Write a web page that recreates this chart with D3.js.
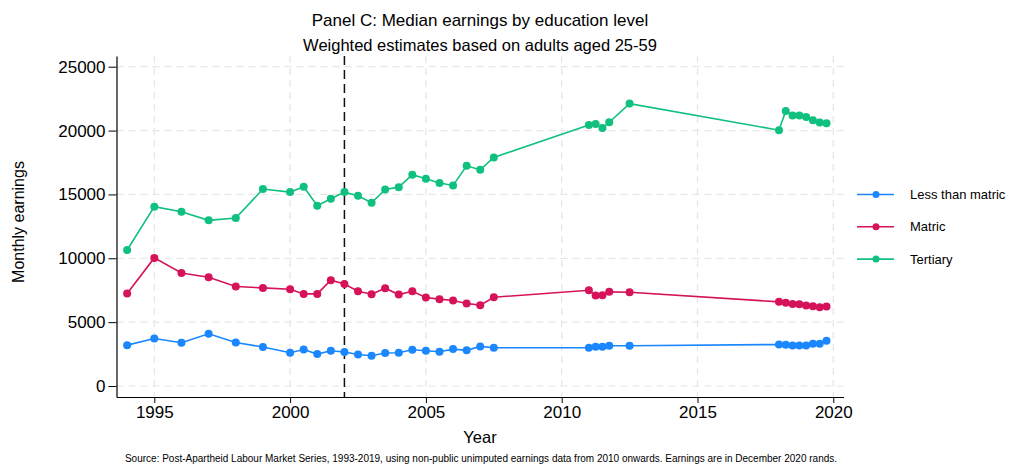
<!DOCTYPE html>
<html>
<head>
<meta charset="utf-8">
<script src="https://cdn.jsdelivr.net/npm/d3@7"></script>
<style>
  html, body { margin: 0; padding: 0; background: #fff; }
  svg { display: block; font-family: "Liberation Sans", Arial, sans-serif; }
</style>
</head>
<body>
<svg id="chart" width="1011" height="468"></svg>
<script>
// Survey rounds (fractional years for half-yearly and quarterly waves)
const years = [1994, 1995, 1996, 1997, 1998, 1999, 2000, 2000.5, 2001, 2001.5,
  2002, 2002.5, 2003, 2003.5, 2004, 2004.5, 2005, 2005.5, 2006, 2006.5,
  2007, 2007.5, 2011, 2011.25, 2011.5, 2011.75, 2012.5,
  2018, 2018.25, 2018.5, 2018.75, 2019, 2019.25, 2019.5, 2019.75];

// Median monthly earnings (December 2020 rands)
const lessThanMatric = [3200, 3720, 3390, 4090, 3410, 3050, 2600, 2860, 2500, 2760,
  2660, 2470, 2370, 2580, 2600, 2840, 2760, 2680, 2890, 2790,
  3100, 3000, 3000, 3070, 3070, 3150, 3150,
  3250, 3230, 3180, 3180, 3180, 3300, 3310, 3540];

const matric = [7240, 10030, 8850, 8520, 7790, 7680, 7580, 7210, 7210, 8280,
  7990, 7420, 7190, 7660, 7160, 7420, 6930, 6800, 6690, 6460,
  6330, 6950, 7500, 7080, 7110, 7370, 7340,
  6590, 6510, 6430, 6410, 6300, 6250, 6170, 6220];

const tertiary = [10650, 14040, 13650, 12970, 13150, 15420, 15180, 15600, 14120, 14660,
  15180, 14900, 14350, 15390, 15570, 16540, 16220, 15890, 15700, 17240,
  16930, 17890, 20440, 20520, 20210, 20650, 22110,
  20030, 21540, 21170, 21170, 21070, 20810, 20630, 20570];

const seriesNames = ["Less than matric", "Matric", "Tertiary"];
const seriesValues = [lessThanMatric, matric, tertiary];
const seriesColors = ["#1a87ff", "#d6125a", "#0fc07e"];

const xTicks = [1995, 2000, 2005, 2010, 2015, 2020];
const yTicks = [0, 5000, 10000, 15000, 20000, 25000];
const markerYear = 2002;

const svg = d3.select("#chart");
const plot = { left: 116.5, right: 843.5, top: 56, bottom: 397 };

const x = d3.scaleLinear().domain([1993.608, 2020.376]).range([plot.left, plot.right]);
const y = d3.scaleLinear().domain([-861, 25838]).range([plot.bottom, plot.top]);

// Grid lines
const grid = svg.append("g").attr("stroke", "#e6e6e6").attr("stroke-width", 1.2)
  .attr("stroke-dasharray", "7,5");
grid.selectAll("line.v").data(xTicks).join("line")
  .attr("x1", d => x(d)).attr("x2", d => x(d))
  .attr("y1", plot.top).attr("y2", plot.bottom);
grid.selectAll("line.h").data(yTicks).join("line")
  .attr("y1", d => y(d)).attr("y2", d => y(d))
  .attr("x1", plot.left).attr("x2", plot.right);

// Reference line at 2002
svg.append("line")
  .attr("x1", x(markerYear)).attr("x2", x(markerYear))
  .attr("y1", plot.top).attr("y2", plot.bottom)
  .attr("stroke", "#111").attr("stroke-width", 1.5)
  .attr("stroke-dasharray", "9,5");

// Axes
const xAxis = d3.axisBottom(x).tickValues(xTicks).tickSizeInner(6).tickSizeOuter(0)
  .tickPadding(3).tickFormat(d3.format("d"));
const gx = svg.append("g").attr("transform", `translate(0,${plot.bottom})`).call(xAxis);
gx.select(".domain").attr("stroke", "#000").attr("stroke-width", 1.2);
gx.selectAll(".tick line").attr("stroke", "#000");
gx.selectAll("text").attr("font-size", 17).attr("fill", "#000")
  .attr("font-family", "Liberation Sans, Arial, sans-serif");

const yAxis = d3.axisLeft(y).tickValues(yTicks).tickSizeInner(8).tickSizeOuter(0)
  .tickPadding(3).tickFormat(d3.format("d"));
const gy = svg.append("g").attr("transform", `translate(${plot.left},0)`).call(yAxis);
gy.select(".domain").attr("stroke", "#000").attr("stroke-width", 1.2);
gy.selectAll(".tick line").attr("stroke", "#000");
gy.selectAll("text").attr("font-size", 17).attr("fill", "#000")
  .attr("font-family", "Liberation Sans, Arial, sans-serif");

// Series lines and markers
const line = d3.line().x(d => x(d[0])).y(d => y(d[1]));
seriesValues.forEach((vals, i) => {
  const pts = years.map((yr, j) => [yr, vals[j]]);
  svg.append("path").datum(pts)
    .attr("fill", "none").attr("stroke", seriesColors[i]).attr("stroke-width", 1.6)
    .attr("d", line);
  svg.append("g").selectAll("circle").data(pts).join("circle")
    .attr("cx", d => x(d[0])).attr("cy", d => y(d[1])).attr("r", 4)
    .attr("fill", seriesColors[i]);
});

// Legend
const legend = svg.append("g");
seriesNames.forEach((name, i) => {
  const ly = 194.5 + i * 32.3;
  legend.append("line").attr("x1", 857).attr("x2", 894).attr("y1", ly).attr("y2", ly)
    .attr("stroke", seriesColors[i]).attr("stroke-width", 1.6);
  legend.append("circle").attr("cx", 876).attr("cy", ly).attr("r", 3.5).attr("fill", seriesColors[i]);
  legend.append("text").attr("x", 910).attr("y", ly).attr("dy", "0.35em")
    .attr("font-size", 13).attr("fill", "#000").text(name);
});

// Titles
svg.append("text").attr("x", 480).attr("y", 26).attr("text-anchor", "middle")
  .attr("font-size", 17).attr("fill", "#000")
  .text("Panel C: Median earnings by education level");
svg.append("text").attr("x", 480).attr("y", 51).attr("text-anchor", "middle")
  .attr("font-size", 16.5).attr("fill", "#000")
  .text("Weighted estimates based on adults aged 25-59");

svg.append("text").attr("x", (plot.left + plot.right) / 2).attr("y", 443)
  .attr("text-anchor", "middle").attr("font-size", 16.5).attr("fill", "#000").text("Year");

svg.append("text").attr("transform", "translate(24,222) rotate(-90)")
  .attr("text-anchor", "middle").attr("font-size", 16).attr("fill", "#000")
  .text("Monthly earnings");

svg.append("text").attr("x", 481).attr("y", 462).attr("text-anchor", "middle")
  .attr("font-size", 10).attr("fill", "#000")
  .text("Source: Post-Apartheid Labour Market Series, 1993-2019, using non-public unimputed earnings data from 2010 onwards. Earnings are in December 2020 rands.");
</script>
</body>
</html>
